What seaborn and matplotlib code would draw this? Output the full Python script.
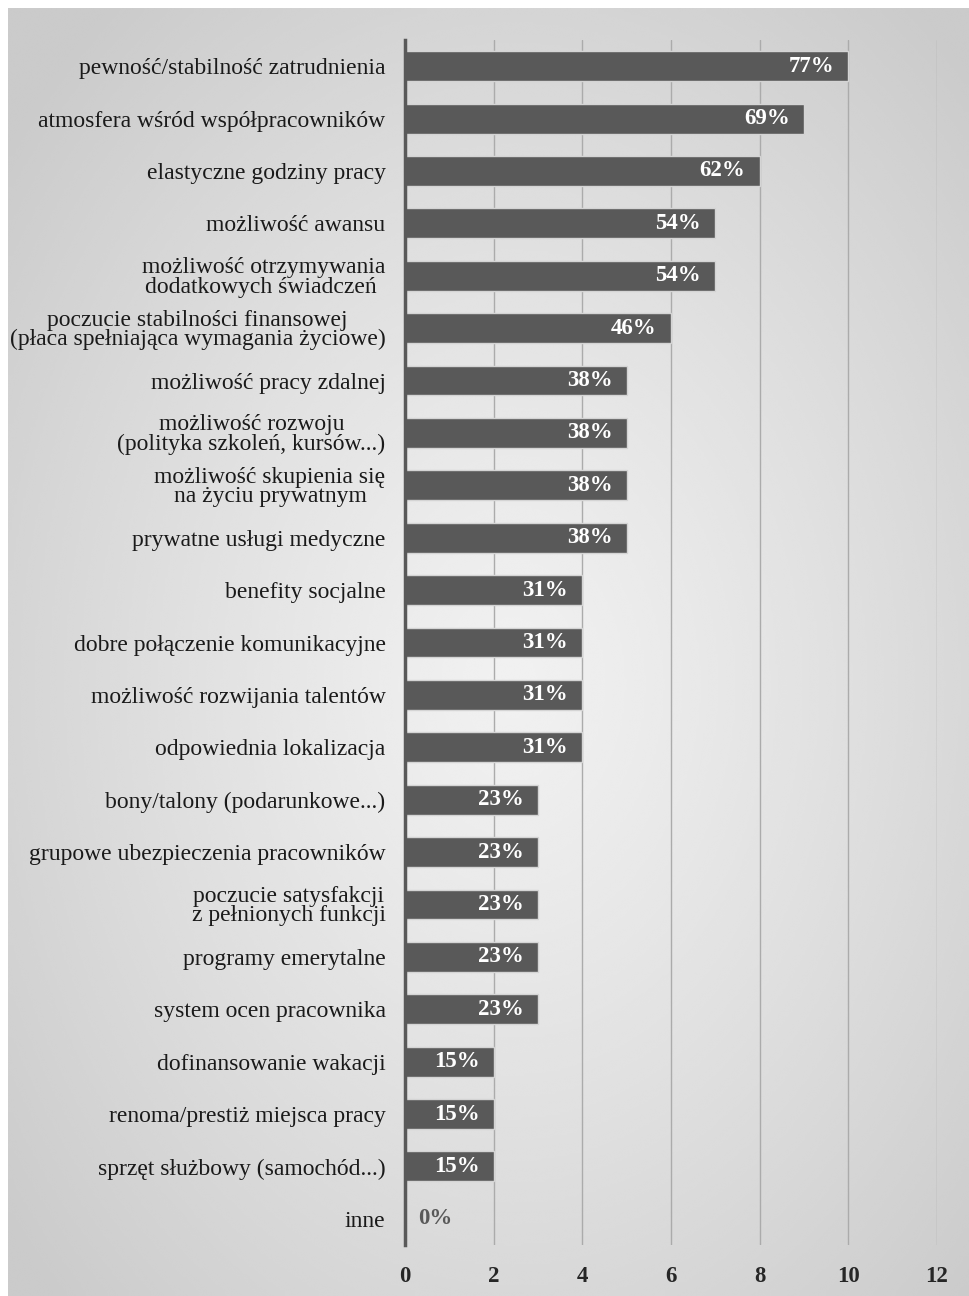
import numpy as np
import pandas as pd
import matplotlib
matplotlib.use("Agg")
import matplotlib.pyplot as plt
import seaborn as sns

# ==========================================
# Data
# ==========================================

categories = [
    "pewność/stabilność zatrudnienia",
    "atmosfera wśród współpracowników",
    "elastyczne godziny pracy",
    "możliwość awansu",
    "możliwość otrzymywania\ndodatkowych świadczeń ",
    "poczucie stabilności finansowej\n(płaca spełniająca wymagania życiowe)",
    "możliwość pracy zdalnej",
    "możliwość rozwoju\n(polityka szkoleń, kursów...)",
    "możliwość skupienia się\nna życiu prywatnym",
    "prywatne usługi medyczne",
    "benefity socjalne",
    "dobre połączenie komunikacyjne",
    "możliwość rozwijania talentów",
    "odpowiednia lokalizacja",
    "bony/talony (podarunkowe...)",
    "grupowe ubezpieczenia pracowników",
    "poczucie satysfakcji\nz pełnionych funkcji",
    "programy emerytalne",
    "system ocen pracownika",
    "dofinansowanie wakacji",
    "renoma/prestiż miejsca pracy",
    "sprzęt służbowy (samochód...)",
    "inne",
]
counts = [10, 9, 8, 7, 7, 6, 5, 5, 5, 5, 4, 4, 4, 4, 3, 3, 3, 3, 3, 2, 2, 2, 0]
percent_labels = ["77%", "69%", "62%", "54%", "54%", "46%", "38%", "38%", "38%",
                  "38%", "31%", "31%", "31%", "31%", "23%", "23%", "23%", "23%",
                  "23%", "15%", "15%", "15%", "0%"]
x_ticks = [0, 2, 4, 6, 8, 10, 12]

BAR_COLOR = "#595959"
SERIF = ["Liberation Serif", "DejaVu Serif"]

df = pd.DataFrame({"kategoria": categories, "liczba": counts})

# ==========================================
# Figure + gradient background
# ==========================================

sns.set_style("white")
plt.rcParams["font.family"] = SERIF

fig = plt.figure(figsize=(9.69, 12.96), dpi=100)
fig.patch.set_facecolor("white")

bg = fig.add_axes([8 / 969, 0, 1 - 8 / 969, 1 - 8 / 1296], zorder=0)
gx, gy = np.meshgrid(np.linspace(-1, 1, 400), np.linspace(-1, 1, 500))
dist = np.sqrt((gx - 0.05) ** 2 + (gy - 0.05) ** 2)
shade = 0.945 - 0.15 * np.clip(dist / 1.35, 0, 1) ** 1.2
bg.imshow(shade, cmap="gray", vmin=0, vmax=1, aspect="auto",
          extent=[0, 1, 0, 1], interpolation="bicubic")
bg.axis("off")

ax = fig.add_axes([405 / 969, 1 - 1245 / 1296, (937 - 405) / 969,
                   (1245 - 40) / 1296], zorder=1)
ax.patch.set_alpha(0)

sns.barplot(
    data=df,
    y="kategoria",
    x="liczba",
    orient="h",
    color=BAR_COLOR,
    saturation=1,
    width=0.57,
    edgecolor="#d4d4d4",
    linewidth=1,
    ax=ax,
    zorder=3,
)

# value labels
for patch, lab, val in zip(ax.patches, percent_labels, counts):
    yc = patch.get_y() + patch.get_height() / 2
    if val > 0:
        ax.text(val - 0.32, yc, lab, ha="right", va="center", color="white",
                fontsize=16.5, fontweight="bold", zorder=4)
    else:
        ax.text(0.3, yc, lab, ha="left", va="center", color=BAR_COLOR,
                fontsize=16.5, fontweight="bold", zorder=4)

ax.set_xlim(0, 12)
ax.set_ylim(len(categories) - 0.5, -0.5)
ax.set_xticks(x_ticks)
ax.set_xticklabels([str(t) for t in x_ticks], fontsize=16.5, fontweight="bold")
ax.xaxis.grid(True, color="#ababab", linewidth=1, zorder=0)
ax.set_axisbelow(True)
ax.tick_params(axis="both", length=0)
ax.tick_params(axis="x", pad=15)
ax.tick_params(axis="y", pad=14)
for t in ax.get_yticklabels():
    t.set_fontsize(17)
    t.set_multialignment("center")
    t.set_linespacing(0.9)
    t.set_color("#1a1a1a")

ax.set_xlabel("")
ax.set_ylabel("")
for side in ["top", "right", "bottom"]:
    ax.spines[side].set_visible(False)
ax.spines["left"].set_color(BAR_COLOR)
ax.spines["left"].set_linewidth(2.5)
ax.spines["left"].set_zorder(5)

fig.savefig("out.png", dpi=100)
